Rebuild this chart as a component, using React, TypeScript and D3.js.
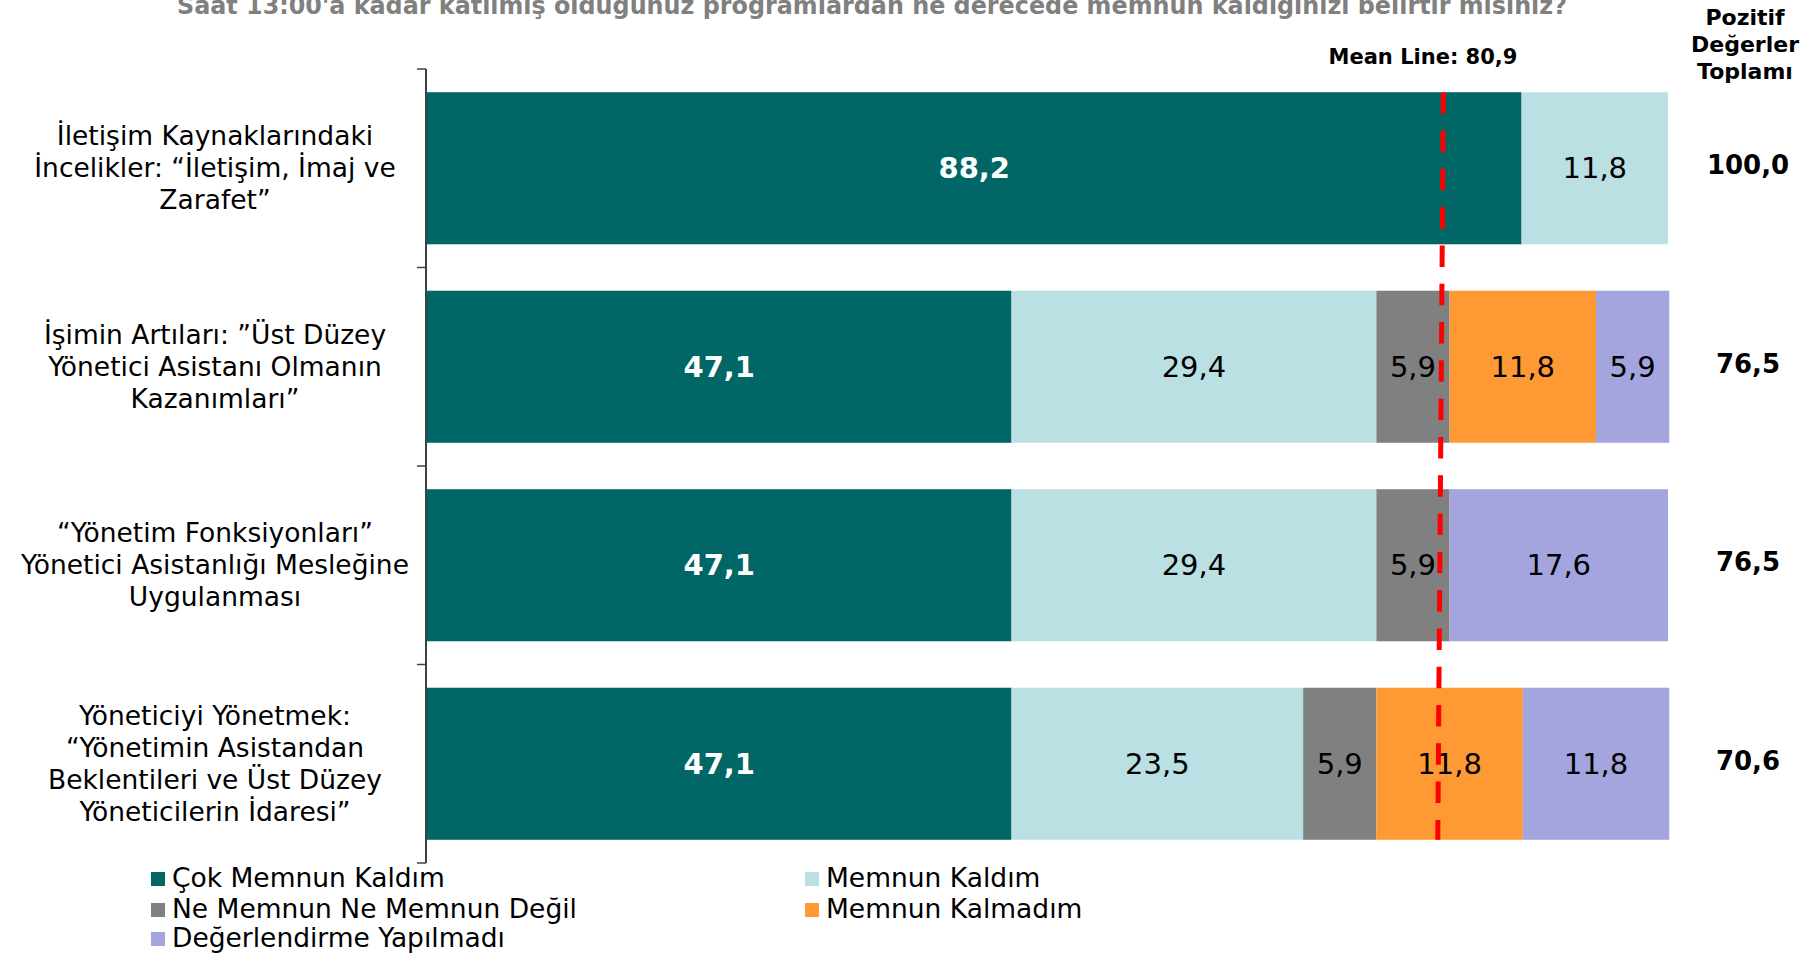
import React from "react";
import * as d3 from "d3";

const title =
  "Saat 13:00'a kadar katılmış olduğunuz programlardan ne derecede memnun kaldığınızı belirtir misiniz?";

const categories = [
  ["İletişim Kaynaklarındaki", "İncelikler: “İletişim, İmaj ve", "Zarafet”"],
  ["İşimin Artıları: ”Üst Düzey", "Yönetici Asistanı Olmanın", "Kazanımları”"],
  ["“Yönetim Fonksiyonları”", "Yönetici Asistanlığı Mesleğine", "Uygulanması"],
  ["Yöneticiyi Yönetmek:", "“Yönetimin Asistandan", "Beklentileri ve Üst Düzey", "Yöneticilerin İdaresi”"],
];

const seriesNames = [
  "Çok Memnun Kaldım",
  "Memnun Kaldım",
  "Ne Memnun Ne Memnun Değil",
  "Memnun Kalmadım",
  "Değerlendirme Yapılmadı",
];
const seriesColors = ["#006766", "#BBE0E3", "#808080", "#FF9933", "#A4A4DE"];

const cokMemnun = [88.2, 47.1, 47.1, 47.1];
const memnun = [11.8, 29.4, 29.4, 23.5];
const neMemnun = [0, 5.9, 5.9, 5.9];
const memnunDegil = [0, 11.8, 0, 11.8];
const yapilmadi = [0, 5.9, 17.6, 11.8];
const pozitifToplam = [100.0, 76.5, 76.5, 70.6];

const meanValue = 80.9;
// drawn position of the (slightly slanted) mean line, top and bottom, in axis units
const meanLineDrawn = [81.9, 81.45];

const seriesValues = [cokMemnun, memnun, neMemnun, memnunDegil, yapilmadi];

const FONT = "'DejaVu Sans', Verdana, sans-serif";
const fmt = (v: number) => d3.format(".1f")(v).replace(".", ",");

export default function App() {
  const W = 1808;
  const H = 955;
  const x = d3.scaleLinear().domain([0, 100]).range([427, 1668]);
  const idx = categories.map((_, i) => String(i));
  const y = d3
    .scaleBand<string>()
    .domain(idx)
    .range([69, 863])
    .paddingInner(0.234)
    .paddingOuter(0.117);

  const rows = categories.map((_, i) => {
    const r: Record<string, number> = {};
    seriesNames.forEach((s, k) => (r[s] = seriesValues[k][i]));
    return r;
  });
  const stack = d3.stack<Record<string, number>>().keys(seriesNames);
  const stacked = stack(rows);

  const step = y.step();
  const axisX = 426;
  const tickYs = d3.range(categories.length + 1).map((i) => 69 + i * step);
  const lineTop = y("0")!;
  const lineBottom = y(String(categories.length - 1))! + y.bandwidth();

  const legendCols = [151, 805];
  const legendRowY = [887, 918, 947];

  return (
    <svg
      width={W}
      height={H}
      style={{ position: "absolute", left: 0, top: 0, background: "#fff" }}
      fontFamily={FONT}
    >
      <text
        x={177}
        y={14}
        fontSize={24}
        fontWeight="bold"
        fill="#808080"
        textLength={1390}
        lengthAdjust="spacingAndGlyphs"
      >
        {title}
      </text>

      {/* header */}
      {["Pozitif", "Değerler", "Toplamı"].map((t, i) => (
        <text
          key={t}
          x={1745}
          y={25 + i * 27}
          textAnchor="middle"
          fontSize={22}
          fontWeight="bold"
          fill="#000"
        >
          {t}
        </text>
      ))}
      <text x={1423} y={64} textAnchor="middle" fontSize={21} fontWeight="bold" fill="#000">
        {"Mean Line: " + fmt(meanValue)}
      </text>

      {/* bars */}
      {stacked.map((layer, k) =>
        layer.map((d, i) => {
          const w = x(d[1]) - x(d[0]);
          if (w <= 0) return null;
          return (
            <rect
              key={k + "-" + i}
              x={x(d[0])}
              y={y(String(i))!}
              width={w}
              height={y.bandwidth()}
              fill={seriesColors[k]}
            />
          );
        })
      )}
      {stacked.map((layer, k) =>
        layer.map((d, i) => {
          const v = seriesValues[k][i];
          if (!v) return null;
          const cx = (x(d[0]) + x(d[1])) / 2;
          const cy = y(String(i))! + y.bandwidth() / 2;
          return (
            <text
              key={"t" + k + "-" + i}
              x={cx}
              y={cy + 10}
              textAnchor="middle"
              fontSize={29}
              fontWeight={k === 0 ? "bold" : "normal"}
              fill={k === 0 ? "#fff" : "#000"}
            >
              {fmt(v)}
            </text>
          );
        })
      )}

      {/* axis */}
      <line x1={axisX} x2={axisX} y1={tickYs[0]} y2={tickYs[tickYs.length - 1]} stroke="#404040" strokeWidth={2} />
      {tickYs.map((ty, i) => (
        <line key={"tick" + i} x1={axisX - 9} x2={axisX} y1={ty} y2={ty} stroke="#404040" strokeWidth={1.5} />
      ))}

      {/* category labels */}
      {categories.map((lines, i) => {
        const cy = y(String(i))! + y.bandwidth() / 2;
        const lh = 32;
        const first = cy + 9 - ((lines.length - 1) / 2) * lh;
        return (
          <text key={"c" + i} textAnchor="middle" fontSize={26.5} fill="#000">
            {lines.map((l, j) => (
              <tspan key={j} x={215} y={first + j * lh}>
                {l}
              </tspan>
            ))}
          </text>
        );
      })}

      {/* totals */}
      {pozitifToplam.map((v, i) => (
        <text
          key={"p" + i}
          x={1748}
          y={y(String(i))! + y.bandwidth() / 2 + 6}
          textAnchor="middle"
          fontSize={26}
          fontWeight="bold"
          fill="#000"
        >
          {fmt(v)}
        </text>
      ))}

      {/* mean line */}
      <line
        x1={x(meanLineDrawn[0])}
        x2={x(meanLineDrawn[1])}
        y1={lineTop}
        y2={lineBottom}
        stroke="#FF0000"
        strokeWidth={5}
        strokeDasharray="21.5 16.8"
      />

      {/* legend */}
      {seriesNames.map((s, k) => {
        const col = k % 2;
        const row = Math.floor(k / 2);
        const lx = legendCols[col];
        const ly = legendRowY[row];
        return (
          <g key={"l" + k}>
            <rect x={lx} y={ly - 15} width={14} height={14} fill={seriesColors[k]} />
            <text x={lx + 21} y={ly} fontSize={26.5} fill="#000">
              {s}
            </text>
          </g>
        );
      })}
    </svg>
  );
}
